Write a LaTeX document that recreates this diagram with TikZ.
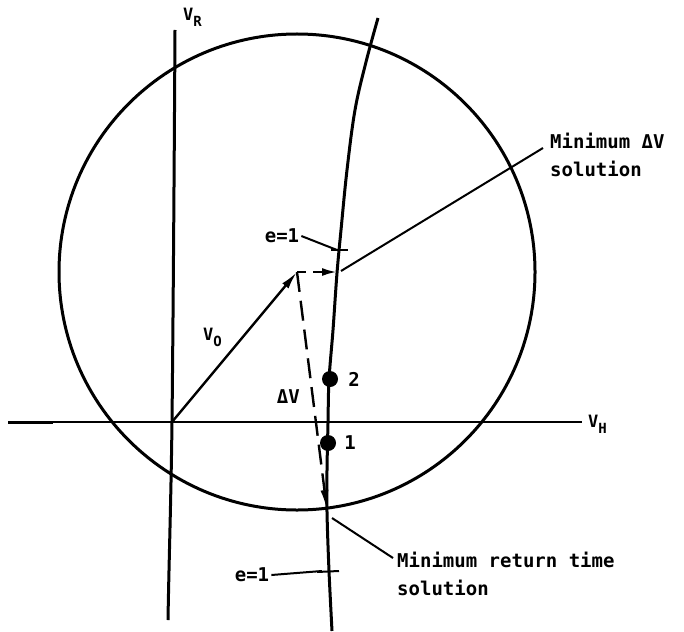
\documentclass[tikz,border=0pt]{standalone}
\usepackage{fontspec}
\setmainfont{DejaVu Sans Mono}
\usetikzlibrary{arrows.meta}
\newcommand{\subtxt}[1]{\raisebox{-6pt}{\fontsize{14}{14}\selectfont #1}}
\begin{document}
\begin{tikzpicture}[x=1pt,y=-1pt,
  txt/.style={font=\bfseries\fontsize{19}{28}\selectfont, inner sep=0pt},
  axlbl/.style={font=\bfseries\fontsize{17}{20}\selectfont, inner sep=0pt},
  axisline/.style={line width=2pt},
  thickline/.style={line width=3pt},
  leader/.style={line width=2pt},
  dot/.style={circle, fill=black, minimum size=16pt, inner sep=0pt},
  vecarrow/.style={line width=2.4pt, -{Latex[length=18pt,width=8pt]}},
  dvecshort/.style={line width=2.4pt, dash pattern=on 9pt off 7pt, -{Latex[length=15pt,width=8pt]}},
  dveclong/.style={line width=2.4pt, dash pattern=on 20pt off 9pt, -{Latex[length=20pt,width=8pt]}}]
\useasboundingbox (0,0) rectangle (684,631);
% axes
\coordinate (vrtop) at (175,30);
\coordinate (O) at (172,422);
\coordinate (vrbot) at (168,620);
\draw[thickline] (vrtop) .. controls (174,200) and (173,330) .. (O) .. controls (171,500) and (169,560) .. (vrbot);
\coordinate (hleft) at (8,422);
\coordinate (hright) at (582,422);
\draw[axisline] (hleft) -- (hright);
\draw[line width=3pt] (hleft) -- (53,422);
\node[axlbl, anchor=north west] (vr) at (183,8) {V\subtxt{R}};
\node[axlbl, anchor=north west] (vh) at (588,415) {V\subtxt{H}};
% velocity circle centred on tip of V0
\coordinate (A) at (297,272);
\draw[thickline] (A) circle[radius=238pt];
% e=1 curve
\draw[thickline] plot[smooth, tension=0.6] coordinates {(378,18) (366,62) (355,110) (347,170) (341,230) (337,273) (333,330) (329,380) (328,423) (327,470) (327,512) (329,571) (332,631)};
% vectors
\coordinate (minDV) at (337,272);
\coordinate (minT) at (327,510);
\draw[vecarrow] (O) -- (A);
\draw[dvecshort] (A) -- (minDV);
\draw[dveclong] (A) -- (minT);
\node[axlbl, anchor=north west] (v0) at (203,328) {V\subtxt{O}};
\node[txt, anchor=north east] (dv) at (300,389) {ΔV};
% points
\node[dot] (p2) at (330,379) {};
\node[txt] (l2) at (354,379) {2};
\node[dot] (p1) at (328,443) {};
\node[txt] (l1) at (350,443) {1};
% minimum dV leader
\coordinate (mdvstart) at (341,271);
\coordinate (mdvend) at (543,148);
\draw[leader] (mdvstart) -- (mdvend);
\node[txt, anchor=north west, align=left] (mdvtxt) at (550,133) {Minimum ΔV\\solution};
% minimum return time leader
\coordinate (mrtstart) at (332,518);
\coordinate (mrtend) at (393,558);
\draw[leader] (mrtstart) -- (mrtend);
\node[txt, anchor=north west, align=left] (mrttxt) at (397,552) {Minimum return time\\solution};
% e=1 ticks
\coordinate (tickt) at (337,250);
\draw[leader] (331,250) -- (348,250);
\node[txt] (e1t) at (282,236) {e=1};
\draw[leader] ([xshift=2pt]e1t.east) -- (tickt);
\coordinate (tickb) at (322,571);
\draw[leader] (317,572) -- (339,571);
\node[txt] (e1b) at (252,575) {e=1};
\draw[leader] ([xshift=2pt]e1b.east) -- (tickb);
\end{tikzpicture}
\end{document}
